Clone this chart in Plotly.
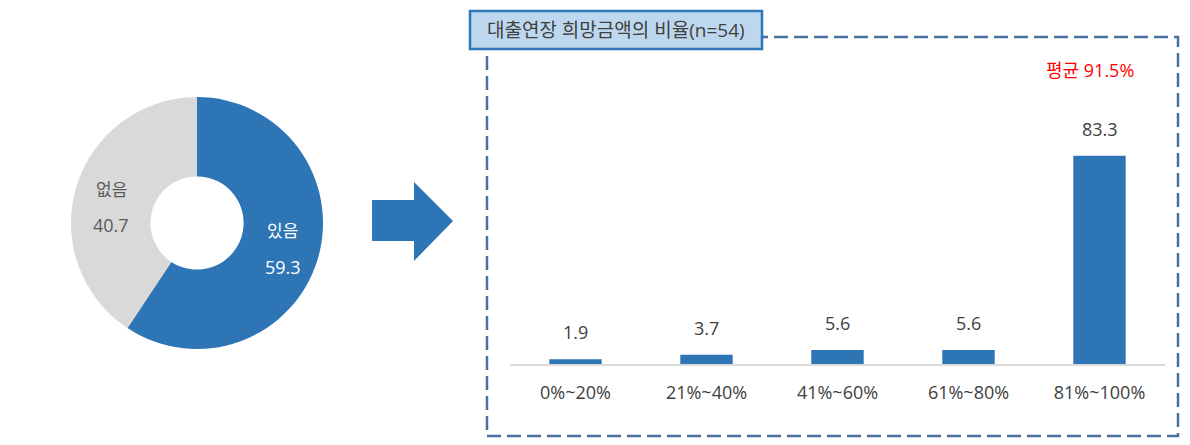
import math
import plotly.graph_objects as go

W, H = 1190, 445

# ---- data ----
pie_labels = ["있음", "없음"]
pie_values = [59.3, 40.7]
pie_colors = ["#2E75B6", "#D9D9D9"]
pie_text_colors = ["#FFFFFF", "#595959"]

bar_categories = ["0%~20%", "21%~40%", "41%~60%", "61%~80%", "81%~100%"]
bar_values = [1.9, 3.7, 5.6, 5.6, 83.3]

title_text = "대출연장 희망금액의 비율(n=54)"
avg_text = "평균 91.5%"

FONT = "Open Sans, Noto Sans CJK KR, sans-serif"

def px(x):
    return x / W

def py(y):
    return 1 - y / H

# pie geometry (pixels)
PIE_CX, PIE_CY, PIE_R = 197, 223, 126
HOLE = 0.37
LABEL_NUDGE = [0, -10]  # extra vertical nudge (px, up positive) per slice label

fig = go.Figure()

fig.add_trace(go.Pie(
    labels=pie_labels,
    values=pie_values,
    textinfo="none",
    hole=HOLE,
    sort=False,
    direction="clockwise",
    rotation=0,
    marker=dict(colors=pie_colors, line=dict(width=0)),
    domain=dict(x=[px(PIE_CX - PIE_R), px(PIE_CX + PIE_R)],
                y=[py(PIE_CY + PIE_R), py(PIE_CY - PIE_R)]),
    showlegend=False,
    hoverinfo="label+value",
))

fig.add_trace(go.Bar(
    x=bar_categories,
    y=bar_values,
    marker=dict(color="#2E75B6", line=dict(width=0)),
    showlegend=False,
))

annotations = []

# pie slice labels placed at each slice's mid-angle, mid-radius
total = sum(pie_values)
cum = 0.0
r_mid = PIE_R * (1 + HOLE) / 2 + 3
for lab, val, col, nudge in zip(pie_labels, pie_values, pie_text_colors, LABEL_NUDGE):
    ang = 2 * math.pi * (cum + val / 2) / total
    cum += val
    cx = PIE_CX + r_mid * math.sin(ang)
    cy = PIE_CY - r_mid * math.cos(ang)
    annotations.append(dict(x=px(cx), y=py(cy), xref="paper", yref="paper", text=lab,
                            showarrow=False, xanchor="center", yanchor="middle", yshift=18 + nudge,
                            font=dict(family=FONT, size=17, color=col)))
    annotations.append(dict(x=px(cx), y=py(cy), xref="paper", yref="paper", text=f"{val:.1f}",
                            showarrow=False, xanchor="center", yanchor="middle", yshift=-18 + nudge,
                            font=dict(family=FONT, size=18, color=col)))

for c, v in zip(bar_categories, bar_values):
    annotations.append(dict(
        x=c, y=v, xref="x", yref="y", text=f"{v:.1f}", showarrow=False,
        yanchor="bottom", yshift=13,
        font=dict(family=FONT, size=18, color="#404040"),
    ))

annotations.append(dict(
    x=px(616), y=py(30), xref="paper", yref="paper", text=title_text,
    showarrow=False, xanchor="center", yanchor="middle",
    font=dict(family=FONT, size=19, color="#404040"),
))
annotations.append(dict(
    x=px(1090), y=py(70), xref="paper", yref="paper", text=avg_text,
    showarrow=False, xanchor="center", yanchor="middle",
    font=dict(family=FONT, size=18, color="#FF0000"),
))

# arrow path (pixel -> paper)
arrow_pts = [(372, 200), (414, 200), (414, 182), (453, 221), (414, 261), (414, 241), (372, 241)]
arrow_path = "M " + " L ".join(f"{px(x)},{py(y)}" for x, y in arrow_pts) + " Z"

shapes = [
    dict(type="path", path=arrow_path, xref="paper", yref="paper",
         fillcolor="#2E75B6", line=dict(width=0)),
    dict(type="rect", xref="paper", yref="paper",
         x0=px(487), x1=px(1178), y0=py(436), y1=py(37),
         line=dict(color="#4A72A0", width=2.5, dash="14px,6px"), fillcolor="rgba(0,0,0,0)"),
    dict(type="rect", xref="paper", yref="paper",
         x0=px(470), x1=px(762), y0=py(49), y1=py(11),
         line=dict(color="#2E75B6", width=2.5), fillcolor="#BDD7EE"),
]

fig.update_layout(
    width=W, height=H,
    margin=dict(l=0, r=0, t=0, b=0),
    paper_bgcolor="white", plot_bgcolor="white",
    font=dict(family=FONT, color="#404040"),
    bargap=0.6,
    xaxis=dict(domain=[px(510), px(1165)], showline=True, linecolor="#D9D9D9", linewidth=1.5,
               showgrid=False, zeroline=False, ticks="", ticklabelstandoff=12,
               tickfont=dict(family=FONT, size=18, color="#404040")),
    yaxis=dict(domain=[py(364), py(114)], range=[0, 100], visible=False,
               showgrid=False, zeroline=False),
    annotations=annotations,
    shapes=shapes,
)

fig.write_html("out.html", config={"displayModeBar": False},
               post_script="document.body.style.margin='0';")
